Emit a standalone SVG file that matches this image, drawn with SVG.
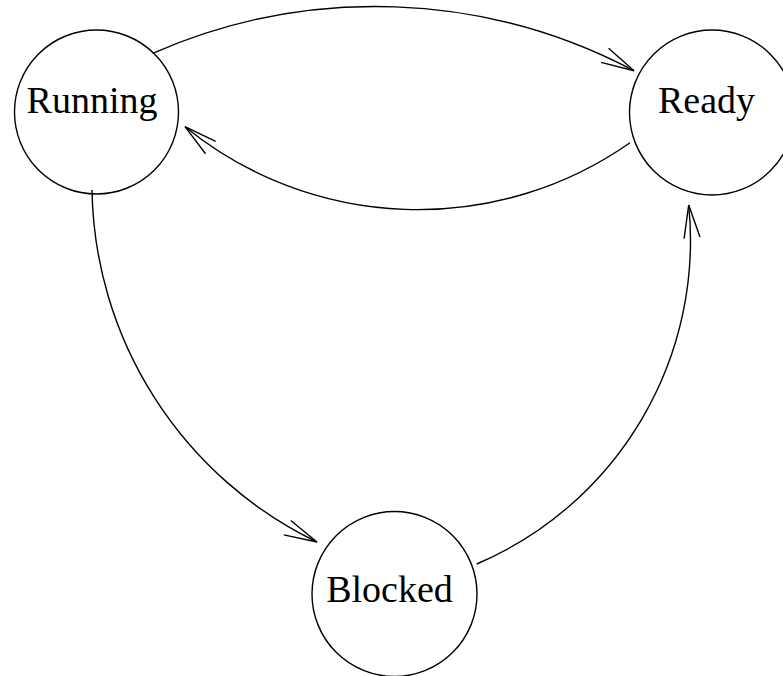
<svg xmlns="http://www.w3.org/2000/svg" width="783" height="676" viewBox="0 0 783 676">
<style>
.node{fill:none;stroke:#000;stroke-width:1.4}
.lbl{font-family:"Liberation Serif","Times New Roman",serif;font-size:38px;fill:#000;text-anchor:middle}
.edge{fill:none;stroke:#000;stroke-width:1.4;marker-end:url(#arr)}
</style>
<defs>
<marker id="arr" markerUnits="userSpaceOnUse" markerWidth="40" markerHeight="20" refX="0" refY="0" orient="auto" overflow="visible">
<path d="M-33,-8 L0,0 L-33,8" fill="none" stroke="#000" stroke-width="1.4"/>
</marker>
</defs>
<rect width="783" height="676" fill="#fff"/>
<g id="running"><circle class="node" cx="96.5" cy="112" r="82"/><text class="lbl" x="92" y="113">Running</text></g>
<g id="ready"><circle class="node" cx="712" cy="112.5" r="82.5"/><text class="lbl" x="706.5" y="113">Ready</text></g>
<g id="blocked"><circle class="node" cx="394.5" cy="594" r="82.5"/><text class="lbl" x="389.5" y="602">Blocked</text></g>
<g id="connectors">
<path class="edge" d="M152.7,53.3 A553 553 0 0 1 634,70.7"/>
<path class="edge" d="M630,142.7 A369 369 0 0 1 185,126.7"/>
<path class="edge" d="M92,190 A398 398 0 0 0 317,542"/>
<path class="edge" d="M476.7,564 A351.6 351.6 0 0 0 688.7,205"/>
</g>
</svg>
